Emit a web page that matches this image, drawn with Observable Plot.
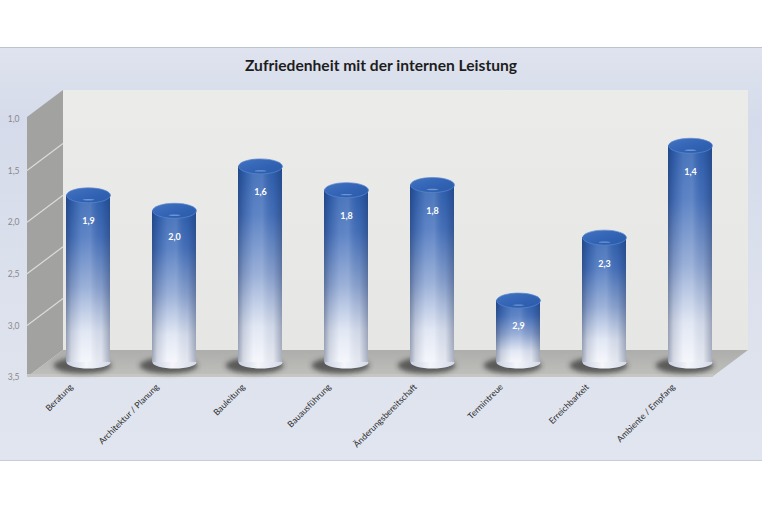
<!DOCTYPE html>
<html>
<head>
<meta charset="utf-8">
<script src="https://cdn.jsdelivr.net/npm/d3@7"></script>
<script src="https://cdn.jsdelivr.net/npm/@observablehq/plot@0.6"></script>
<style>
  html, body { margin: 0; padding: 0; background: #ffffff; }
  body { width: 762px; height: 508px; position: relative; overflow: hidden; font-family: Lato, "Open Sans", sans-serif; }
  #band { position: absolute; left: 0; top: 47px; width: 762px; height: 412px;
          background: linear-gradient(to bottom, #dfe3ef 0%, #d5dbea 18%, #dce1ed 60%, #e1e5ef 100%);
          border-top: 1px solid #bfc3cc; border-bottom: 1px solid #c9ccd4; }
  #title { position: absolute; left: 0; top: 56px; width: 762px; text-align: center;
           font: bold 15.6px Lato, "Open Sans", sans-serif; color: #1d1d1d; z-index: 2; }
  #chart { position: absolute; left: 0; top: 0; z-index: 1; }
</style>
</head>
<body>
<div id="band"></div>
<div id="title">Zufriedenheit mit der internen Leistung</div>
<div id="chart"></div>
<script>
const categories = ["Beratung", "Architektur / Planung", "Bauleitung", "Bauausführung",
                    "Änderungsbereitschaft", "Termintreue", "Erreichbarkeit", "Ambiente / Empfang"];
const values = [1.88, 2.03, 1.6, 1.83, 1.78, 2.9, 2.29, 1.4];
const yTicks = [1.0, 1.5, 2.0, 2.5, 3.0, 3.5];
const yBase = 3.5;

const data = categories.map((c, i) => ({category: c, value: values[i]}));
const fmt = v => v.toFixed(1).replace(".", ",");

// layout
const W = 762, H = 508;
const mL = 66, mR = 50, mT = 119, mB = 131;
const padInner = 0.49;
const step = (W - mL - mR) / (categories.length - padInner);
const bw = step * (1 - padInner);
const lift = -15;             // cylinders sit mid-depth
const depthX = 36, depthY = -27;

function ellipseSymbol(rx, ry) {
  const k = 0.5522848;
  return {draw(ctx) {
    ctx.moveTo(rx, 0);
    ctx.bezierCurveTo(rx, ry * k, rx * k, ry, 0, ry);
    ctx.bezierCurveTo(-rx * k, ry, -rx, ry * k, -rx, 0);
    ctx.bezierCurveTo(-rx, -ry * k, -rx * k, -ry, 0, -ry);
    ctx.bezierCurveTo(rx * k, -ry, rx, -ry * k, rx, 0);
    ctx.closePath();
  }};
}

function defs() {
  const g = d3.create("svg:g");
  const d = g.append("defs");
  const body = d.append("linearGradient").attr("id", "cylBody").attr("x1", 0).attr("y1", 0).attr("x2", 0).attr("y2", 1);
  [[0, "#2d5fb0"], [0.25, "#4672bd"], [0.55, "#8ba4d2"], [0.82, "#dde4f2"], [1, "#f3f5fb"]]
    .forEach(([o, c]) => body.append("stop").attr("offset", o).attr("stop-color", c));
  const shade = d.append("linearGradient").attr("id", "cylShade").attr("x1", 0).attr("y1", 0).attr("x2", 1).attr("y2", 0);
  [[0, "#0a1a40", 0.36], [0.12, "#0a1a40", 0.13], [0.35, "#ffffff", 0.12], [0.55, "#ffffff", 0.15],
   [0.8, "#0a1a40", 0.06], [1, "#0a1a40", 0.32]]
    .forEach(([o, c, a]) => shade.append("stop").attr("offset", o).attr("stop-color", c).attr("stop-opacity", a));
  const top = d.append("linearGradient").attr("id", "cylTop").attr("x1", 0).attr("y1", 0).attr("x2", 1).attr("y2", 1);
  [[0, "#4474c2"], [0.5, "#3364b5"], [1, "#2a5aa8"]]
    .forEach(([o, c]) => top.append("stop").attr("offset", o).attr("stop-color", c));
  const bot = d.append("linearGradient").attr("id", "cylBottom").attr("x1", 0).attr("y1", 0).attr("x2", 1).attr("y2", 0);
  [[0, "#c9d0e2"], [0.45, "#f4f6fb"], [1, "#d3d9e8"]]
    .forEach(([o, c]) => bot.append("stop").attr("offset", o).attr("stop-color", c));
  const wall = d.append("linearGradient").attr("id", "backWall").attr("x1", 0).attr("y1", 0).attr("x2", 0).attr("y2", 1);
  [[0, "#ebebea"], [1, "#e6e6e4"]].forEach(([o, c]) => wall.append("stop").attr("offset", o).attr("stop-color", c));
  const floor = d.append("linearGradient").attr("id", "floorGrad").attr("x1", 0).attr("y1", 0).attr("x2", 0).attr("y2", 1);
  [[0, "#adadab"], [1, "#c0c0bd"]].forEach(([o, c]) => floor.append("stop").attr("offset", o).attr("stop-color", c));
  d.append("filter").attr("id", "blur").attr("x", "-50%").attr("y", "-50%").attr("width", "200%").attr("height", "200%")
    .append("feGaussianBlur").attr("stdDeviation", 2.6);
  return g.node();
}

function walls(index, scales, values, dims) {
  const y = scales.y;
  const xL = dims.marginLeft - 39;
  const xR = dims.width - dims.marginRight;
  const yT = y(yTicks[0]), yB = y(yBase);
  const g = d3.create("svg:g");
  // back wall
  g.append("rect").attr("x", xL + depthX).attr("y", yT + depthY - 2)
    .attr("width", xR - xL).attr("height", yB - yT + 2)
    .attr("fill", "url(#backWall)");
  // left side wall
  g.append("path")
    .attr("d", `M${xL},${yT - 2}L${xL + depthX},${yT + depthY - 2}L${xL + depthX},${yB + depthY}L${xL},${yB}Z`)
    .attr("fill", "#a2a2a1");
  // gridlines on side wall
  yTicks.slice(1, -1).forEach(t => {
    g.append("line").attr("x1", xL).attr("y1", y(t)).attr("x2", xL + depthX).attr("y2", y(t) + depthY)
      .attr("stroke", "#dcdcdc").attr("stroke-width", 1.2);
  });
  // floor
  g.append("path")
    .attr("d", `M${xL},${yB}L${xL + depthX},${yB + depthY}L${xR + depthX},${yB + depthY}L${xR},${yB}Z`)
    .attr("fill", "url(#floorGrad)");
  g.append("path")
    .attr("d", `M${xL},${yB - 3}L${xR + 2},${yB - 3}L${xR},${yB}L${xL},${yB}Z`)
    .attr("fill", "#c6c6c3");
  return g.node();
}

const ellTop = ellipseSymbol(bw / 2, 7.5);
const ellBottom = ellipseSymbol(bw / 2, 6);
const ellShadow = ellipseSymbol(bw / 2 + 7, 8);

const chart = Plot.plot({
  width: W, height: H,
  marginLeft: mL, marginRight: mR, marginTop: mT, marginBottom: mB,
  style: {background: "transparent", overflow: "visible", fontFamily: "Lato, 'Open Sans', sans-serif"},
  x: {type: "band", domain: categories, paddingInner: padInner, paddingOuter: 0, axis: null},
  y: {domain: [1, 3.5], reverse: true, axis: null},
  marks: [
    defs,
    walls,
    // y tick labels
    Plot.text(yTicks, {y: d => d, text: d => fmt(d), frameAnchor: "left", dx: 19 - mL, textAnchor: "end",
                       fill: "#8a8a8a", fontSize: 8.5}),
    // floor shadows
    Plot.dot(data, {x: "category", y: () => yBase, dy: lift + 3, dx: -6, symbol: ellShadow,
                    fill: "#3a3a3a", fillOpacity: 0.75, stroke: "none",
                    render: (i, s, v, d, ctx, next) => { const n = next(i, s, v, d, ctx); n.setAttribute("filter", "url(#blur)"); return n; }}),
    // cylinder bottom caps
    Plot.dot(data, {x: "category", y: () => yBase, dy: lift, symbol: ellBottom, fill: "url(#cylBottom)", stroke: "none"}),
    // cylinder bodies
    Plot.barY(data, {x: "category", y1: () => yBase, y2: "value", dy: lift, fill: "url(#cylBody)"}),
    Plot.barY(data, {x: "category", y1: () => yBase, y2: "value", dy: lift, fill: "url(#cylShade)"}),
    // cylinder top caps
    Plot.dot(data, {x: "category", y: "value", dy: lift, symbol: ellTop, fill: "url(#cylTop)",
                    stroke: "#5a88d0", strokeWidth: 0.7}),
    Plot.dot(data, {x: "category", y: "value", dy: lift + 4.5, symbol: ellipseSymbol(6, 0.7), fill: "#7ea2dc",
                    fillOpacity: 0.8, stroke: "none"}),
    // value labels
    Plot.text(data, {x: "category", y: "value", dy: lift + 26, text: d => fmt(d.value), fill: "#ffffff",
                     fontSize: 9, fontWeight: "bold"}),
    // category labels
    Plot.text(categories, {x: d => d, frameAnchor: "bottom", rotate: -45, textAnchor: "end",
                           dx: -15, dy: 10, fill: "#2a2a2a", fontSize: 8.6})
  ]
});
document.getElementById("chart").appendChild(chart);
</script>
</body>
</html>
